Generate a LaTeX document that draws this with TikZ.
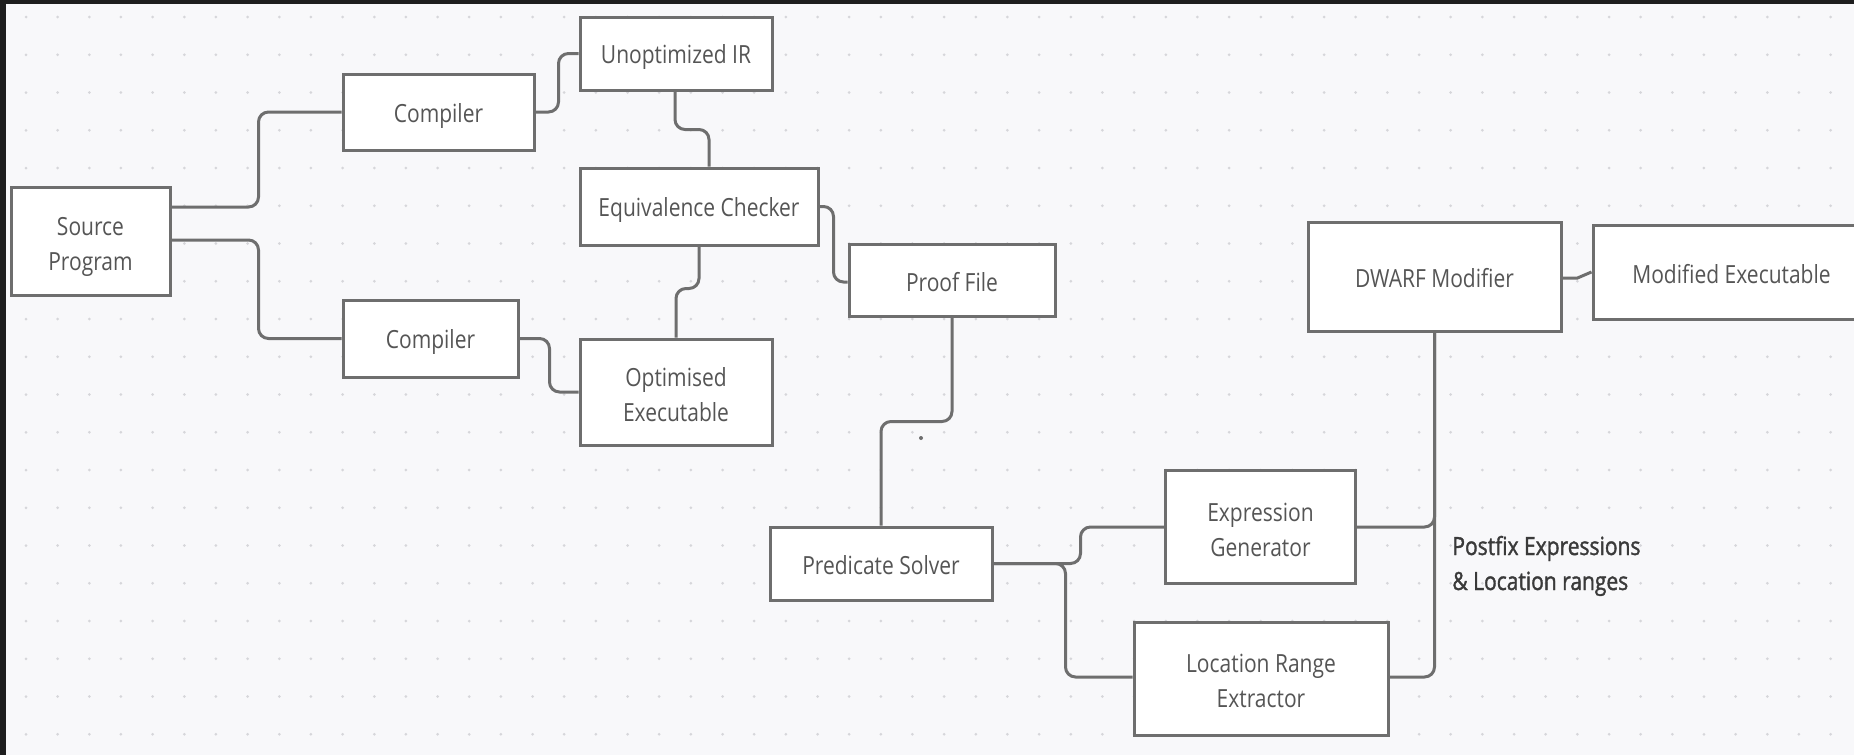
\documentclass[tikz,border=0pt]{standalone}
\usepackage{fontspec}
\setmainfont{Open Sans}[FakeStretch=0.84]
\newfontfamily\lblfont{Open Sans}[FakeStretch=0.84,FakeBold=1.4]
\usetikzlibrary{calc}
\definecolor{bgcol}{HTML}{F8F8FA}
\definecolor{framecol}{HTML}{1E1E1E}
\definecolor{dotcol}{HTML}{D6D6DA}
\definecolor{edgecol}{HTML}{6E6E6E}
\definecolor{txtcol}{HTML}{555555}
\definecolor{lblcol}{HTML}{3A3A3A}
\newcommand\linestrut{\rule[-2.4pt]{0pt}{15.8pt}}
\tikzset{
  box/.style={draw=edgecol, line width=1.5pt, fill=white, inner sep=0pt, align=center,
    text=txtcol, font=\fontsize{12.5}{17.5}\selectfont,
    execute at begin node=\linestrut, execute at end node=\linestrut},
  twoline/.style={text height=31.4pt, text depth=2.4pt},
  conn/.style={draw=edgecol, line width=1.5pt, rounded corners=5pt},
  lbl/.style={inner sep=0pt, text=lblcol, font=\lblfont\fontsize{12.5}{17.5}\selectfont},
  griddot/.style={fill=dotcol}
}
\begin{document}
\begin{tikzpicture}[x=0.5pt,y=-0.5pt]
\useasboundingbox (0,0) rectangle (1854,755);
\clip (0,0) rectangle (1854,755);
\fill[bgcol] (0,0) rectangle (1854,755);
\foreach \i in {0,...,57}{
  \foreach \j in {0,...,19}{
    \fill[griddot] ({26+31.66*\i},{17+37.75*\j}) circle (0.75pt);
  }
}
\fill[framecol] (0,0) rectangle (1854,4);
\fill[framecol] (0,0) rectangle (6,755);

% nodes
\node[box, twoline, minimum width=79.5pt, minimum height=54pt] (src) at (90.5,241) {Source\\Program};
\node[box, minimum width=95.5pt, minimum height=38pt] (comp1) at (438.5,112) {Compiler};
\node[box, minimum width=96pt, minimum height=36.5pt] (unopt) at (676,53.5) {Unoptimized IR};
\node[box, minimum width=119pt, minimum height=38.5pt] (eqc) at (699,206.5) {Equivalence Checker};
\node[box, minimum width=87.5pt, minimum height=38.5pt] (comp2) at (430.5,338.5) {Compiler};
\node[box, twoline, minimum width=96pt, minimum height=53pt] (optexe) at (676,392) {Optimised\\Executable};
\node[box, minimum width=103pt, minimum height=36pt] (proof) at (952,280) {Proof File};
\node[box, minimum width=111pt, minimum height=36.5pt] (pred) at (881,563.5) {Predicate Solver};
\node[box, twoline, minimum width=95pt, minimum height=56.5pt] (exprgen) at (1260.5,527) {Expression\\Generator};
\node[box, twoline, minimum width=127pt, minimum height=56.5pt] (lre) at (1261,678.5) {Location Range\\Extractor};
\node[box, minimum width=126.5pt, minimum height=54.5pt] (dwarf) at (1434.5,276.5) {DWARF Modifier};
\node[box, minimum width=138.5pt, minimum height=47pt] (modexe) at (1731.5,272) {Modified Executable};

\node[lbl, anchor=base west] (note) at (1452,555)
  {\begin{tabular}[t]{@{}l@{}}Postfix Expressions\\\& Location ranges\end{tabular}};

% connectors
\draw[conn] ($(src.east)+(0,-34)$) -- ++(87,0) |- (comp1.west);
\draw[conn] ($(src.east)+(0,-1)$) -- ++(87,0) |- (comp2.west);
\draw[conn] (comp1.east) -- ++(23,0) |- (unopt.west);
\draw[conn] ($(unopt.south)+(-1,0)$) -- ++(0,38) -| ($(eqc.north)+(10,0)$);
\draw[conn] (eqc.south) -- ++(0,42) -| (optexe.north);
\draw[conn] (comp2.east) -- ++(30,0) |- (optexe.west);
\draw[conn] (eqc.east) -- ++(14,0) |- ($(proof.west)+(0,2)$);
\draw[conn] (proof.south) -- ++(0,104) -| (pred.north);
\draw[conn] (pred.east) -- ++(87,0) |- (exprgen.west);
\draw[conn] (pred.east) -- ++(72,0) |- ($(lre.west)+(0,-1.5)$);
\draw[conn] (exprgen.east) -| (dwarf.south);
\draw[conn] ($(lre.east)+(0,-1.5)$) -| (dwarf.south);
\draw[conn, rounded corners=0pt] ($(dwarf.east)+(0,1.5)$) -- ++(15,0) -- (modexe.west);

% stray dot
\fill[edgecol] (921,438) circle (1pt);
\end{tikzpicture}
\end{document}
